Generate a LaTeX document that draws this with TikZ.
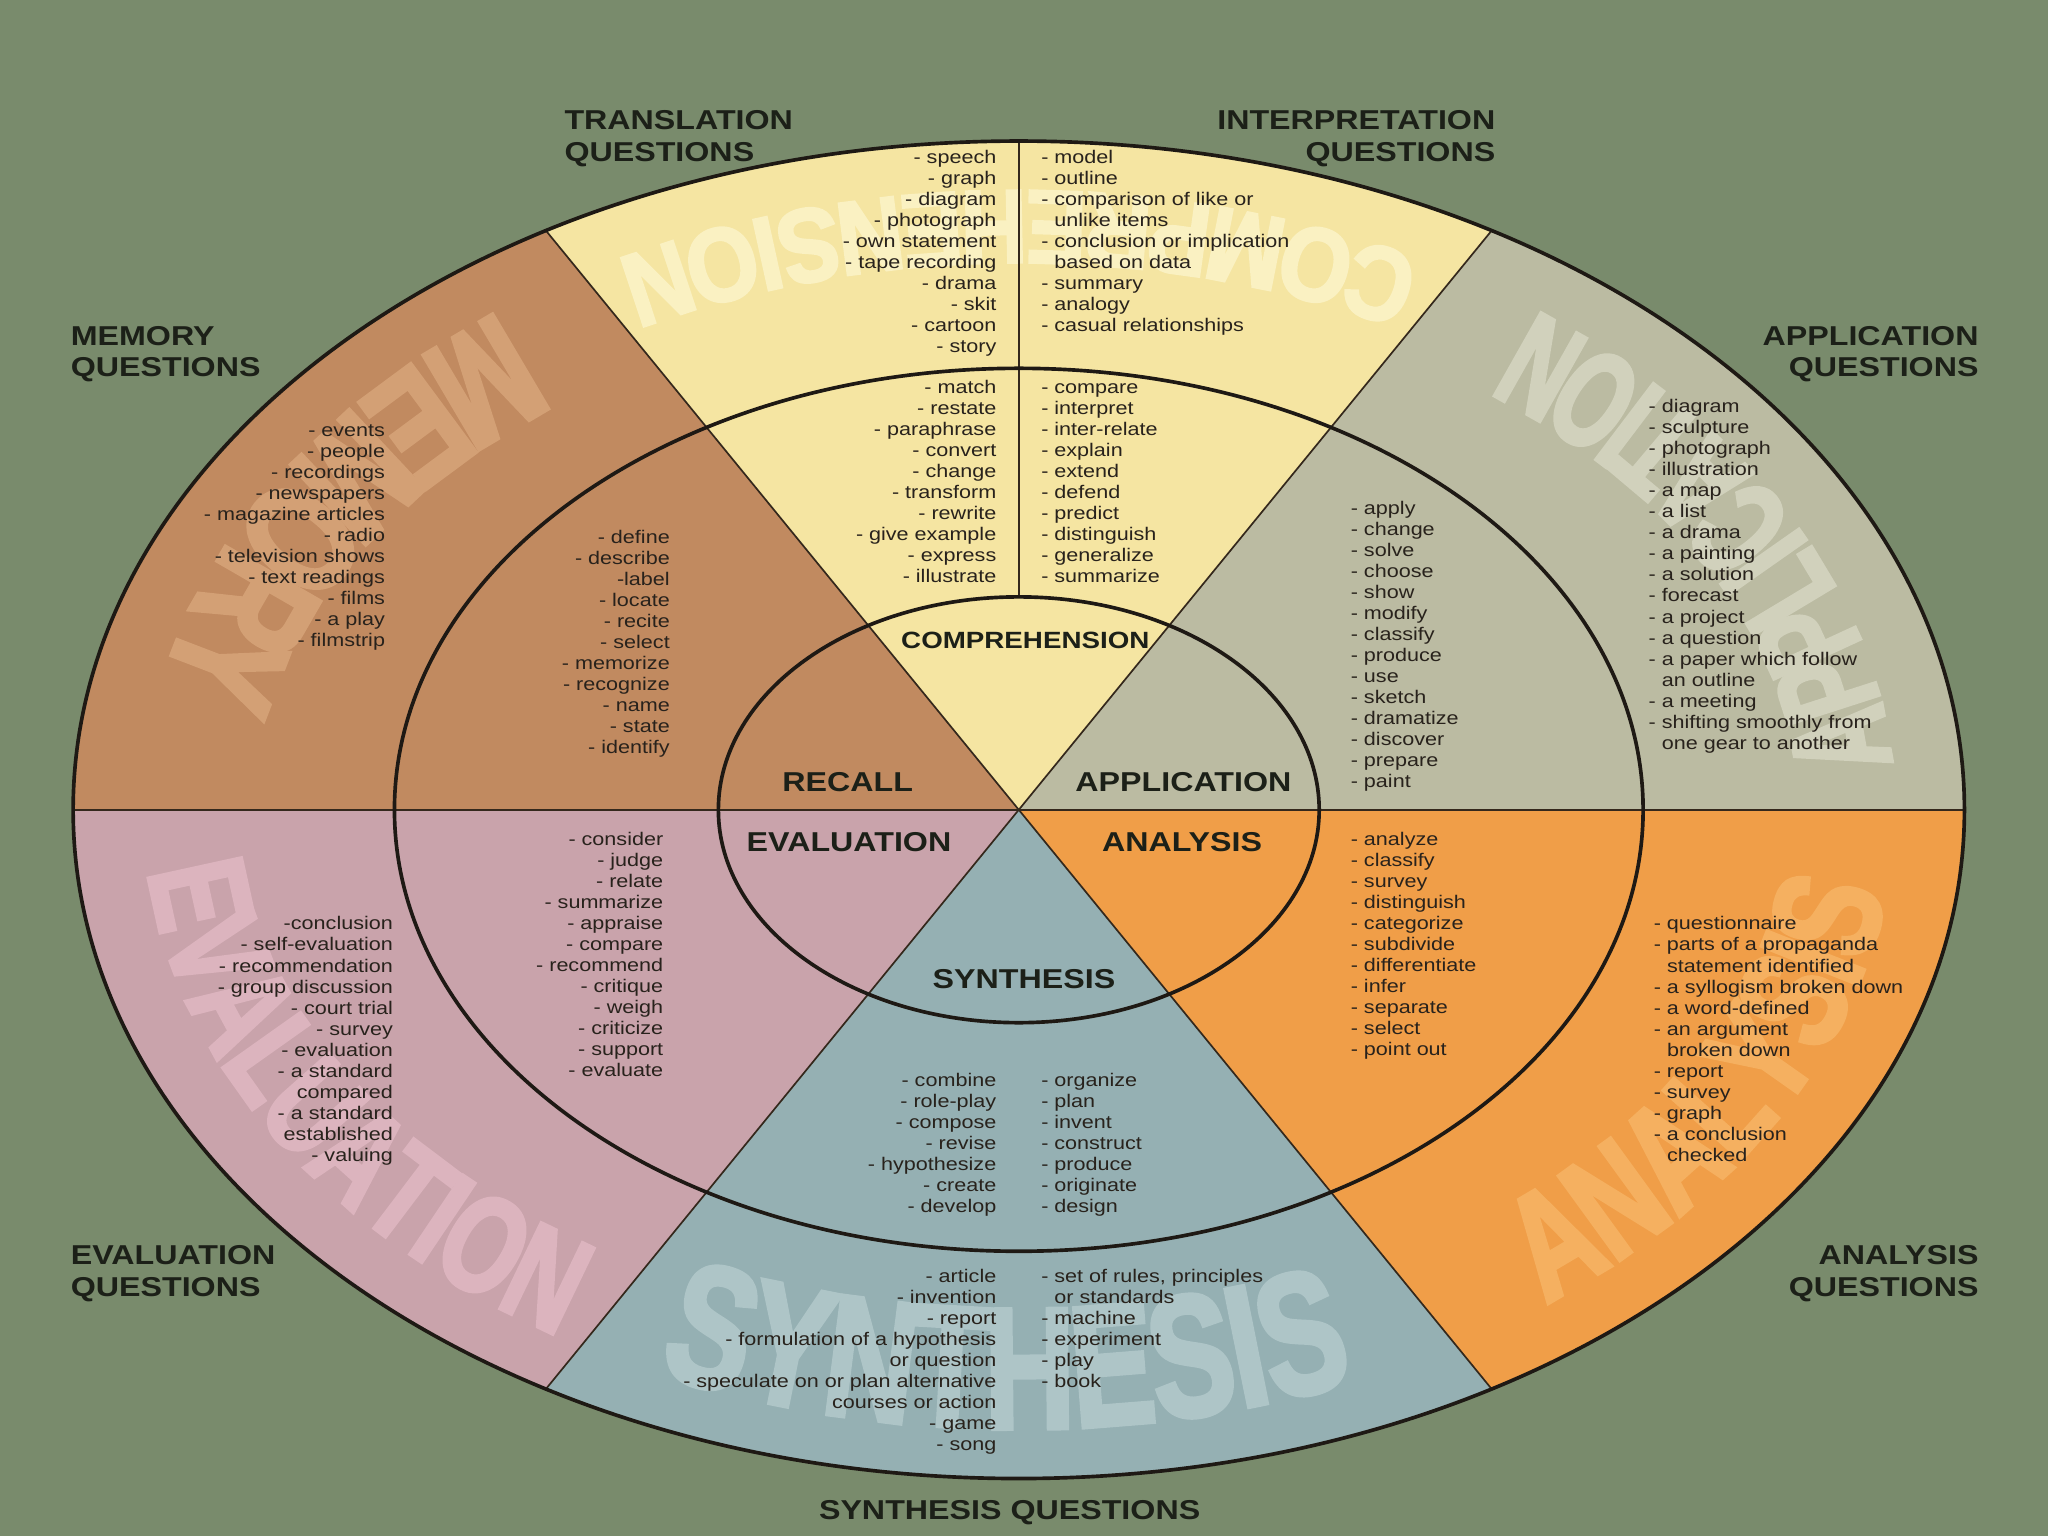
\documentclass[tikz,border=0pt]{standalone}
\usepackage{fontspec}
\usetikzlibrary{decorations.text}
\newfontfamily\lf{Liberation Sans}[FakeStretch=1.18]
\newfontfamily\wf{Liberation Sans Bold}[FakeStretch=0.72,FakeBold=2.5]
\newfontfamily\wfc{Liberation Sans Bold}[FakeStretch=0.64,FakeBold=2.5]
\newfontfamily\wfn{Liberation Sans Bold}[FakeStretch=0.88,FakeBold=2.5]
\newcommand\wmfont[1]{\wf\fontsize{#1}{#1}\selectfont}
\newcommand\wmfontc[1]{\wfc\fontsize{#1}{#1}\selectfont}
\newcommand\wmfontn[1]{\wfn\fontsize{#1}{#1}\selectfont}
\definecolor{bg}{RGB}{121,139,108}
\definecolor{cComp}{RGB}{245,229,162}
\definecolor{cMem}{RGB}{193,138,96}
\definecolor{cApp}{RGB}{187,187,162}
\definecolor{cEval}{RGB}{201,163,171}
\definecolor{cAna}{RGB}{240,158,72}
\definecolor{cSyn}{RGB}{149,176,179}
\definecolor{wmComp}{RGB}{250,241,194}
\definecolor{wmMem}{RGB}{211,160,117}
\definecolor{wmApp}{RGB}{209,209,188}
\definecolor{wmEval}{RGB}{220,180,190}
\definecolor{wmAna}{RGB}{245,176,96}
\definecolor{wmSyn}{RGB}{174,197,199}
\definecolor{txt}{RGB}{40,34,28}
\definecolor{hdc}{RGB}{28,32,24}
\definecolor{ringc}{RGB}{30,25,20}
\definecolor{spokec}{RGB}{52,40,28}
\tikzset{
  li/.style={font=\lf\fontsize{14}{16}\selectfont, text=txt, inner sep=0pt},
  hd/.style={font=\lf\bfseries\fontsize{20.9}{24}\selectfont, text=hdc, inner sep=0pt},
  cl/.style={font=\lf\bfseries\fontsize{20.9}{24}\selectfont, text=hdc, inner sep=0pt},
  ring/.style={draw=ringc, line width=2.8pt},
  spoke/.style={draw=spokec, line width=1.3pt},
}
\newcommand\lstR[4]{\foreach \itm [count=\i] in {#4} {\node[li,anchor=base east] (#1\i) at (#2,{-#3-4-(\i-1)*16.1}) {\itm};}}
\newcommand\lstL[4]{\foreach \itm [count=\i] in {#4} {\node[li,anchor=base west] (#1\i) at (#2,{-#3-4-(\i-1)*16.1}) {\itm};}}
\newcommand\sector[3]{\fill[#1] (C) -- ++(#2:724 and 512) arc[start angle=#2,end angle=#3,x radius=724,y radius=512] -- cycle;}
\begin{document}
\begin{tikzpicture}[x=1pt,y=1pt]
\useasboundingbox (0,0) rectangle (1568,1176);
\fill[bg] (0,0) rectangle (1568,1176);
\begin{scope}[shift={(0,1176)}]
\coordinate (C) at (780,-620);
% sectors
\sector{cApp}{0}{60}
\sector{cComp}{60}{120}
\sector{cMem}{120}{180}
\sector{cEval}{180}{240}
\sector{cSyn}{240}{300}
\sector{cAna}{300}{360}
% watermarks
\path[decorate,decoration={text along path,text color=wmComp,text align=center,text={|\wmfontn{80}|COMPREHENSION}}]
  (C) ++(25:670 and 473.8) arc[start angle=25,end angle=155,x radius=670,y radius=473.8];
\path[decorate,decoration={text along path,text color=wmMem,text align=center,text={|\wmfont{122}|MEMORY}}]
  (C) ++(104:670 and 473.8) arc[start angle=104,end angle=198,x radius=670,y radius=473.8];
\path[decorate,decoration={text along path,text color=wmApp,text align=center,text={|\wmfontc{106}|APPLICATION}}]
  (C) ++(-21:670 and 473.8) arc[start angle=-21,end angle=73,x radius=670,y radius=473.8];
\path[decorate,decoration={text along path,text color=wmEval,text align=center,text={|\wmfont{106}|EVALUATION}}]
  (C) ++(162:670 and 473.8) arc[start angle=162,end angle=256,x radius=670,y radius=473.8];
\path[decorate,decoration={text along path,text color=wmSyn,text align=center,text={|\wmfont{133}|SYNTHESIS}}]
  (C) ++(220:670 and 473.8) arc[start angle=220,end angle=318,x radius=670,y radius=473.8];
\path[decorate,decoration={text along path,text color=wmAna,text align=center,text={|\wmfont{116}|ANALYSIS}}]
  (C) ++(286:670 and 473.8) arc[start angle=286,end angle=380,x radius=670,y radius=473.8];
% spokes
\draw[spoke] (C) ++(-724,0) -- ++(1448,0);
\draw[spoke] (C) -- ++(60:724 and 512);
\draw[spoke] (C) -- ++(120:724 and 512);
\draw[spoke] (C) -- ++(240:724 and 512);
\draw[spoke] (C) -- ++(300:724 and 512);
\draw[spoke] (C) ++(0,163) -- ++(0,349);
% rings
\draw[ring] (C) ellipse[x radius=724,y radius=512];
\draw[ring] (C) ellipse[x radius=478,y radius=338];
\draw[ring] (C) ellipse[x radius=230,y radius=163];
% headings
\node[hd,anchor=base west] (trq1) at (432,-99.4) {TRANSLATION};
\node[hd,anchor=base west] (trq2) at (432,-123.4) {QUESTIONS};
\node[hd,anchor=base east] (inq1) at (1145,-99.4) {INTERPRETATION};
\node[hd,anchor=base east] (inq2) at (1145,-123.4) {QUESTIONS};
\node[hd,anchor=base west] (meq1) at (54,-264.4) {MEMORY};
\node[hd,anchor=base west] (meq2) at (54,-288.4) {QUESTIONS};
\node[hd,anchor=base east] (apq1) at (1515,-264.4) {APPLICATION};
\node[hd,anchor=base east] (apq2) at (1515,-288.4) {QUESTIONS};
\node[hd,anchor=base west] (evq1) at (54,-968.4) {EVALUATION};
\node[hd,anchor=base west] (evq2) at (54,-992.4) {QUESTIONS};
\node[hd,anchor=base east] (anq1) at (1515,-968.4) {ANALYSIS};
\node[hd,anchor=base east] (anq2) at (1515,-992.4) {QUESTIONS};
\node[hd,anchor=base] (syq) at (773,-1163.4) {SYNTHESIS QUESTIONS};
% centre labels
\node[cl,font=\lf\bfseries\fontsize{18}{22}\selectfont] (lComp) at (785,-490) {COMPREHENSION};
\node[cl] (lRec) at (649,-599) {RECALL};
\node[cl] (lApp) at (906,-599) {APPLICATION};
\node[cl] (lEva) at (650,-645) {EVALUATION};
\node[cl] (lAna) at (905,-645) {ANALYSIS};
\node[cl] (lSyn) at (784,-750) {SYNTHESIS};
% lists
\lstR{tr}{763}{121}{- speech,- graph,- diagram,- photograph,- own statement,- tape recording,- drama,- skit,- cartoon,- story}
\lstL{ip}{797}{121}{- model,- outline,- comparison of like or,\phantom{- }unlike items,- conclusion or implication,\phantom{- }based on data,- summary,- analogy,- casual relationships}
\lstR{cm}{763}{297}{- match,- restate,- paraphrase,- convert,- change,- transform,- rewrite,- give example,- express,- illustrate}
\lstL{cr}{797}{297}{- compare,- interpret,- inter-relate,- explain,- extend,- defend,- predict,- distinguish,- generalize,- summarize}
\lstR{mo}{295}{330}{- events,- people,- recordings,- newspapers,- magazine articles,- radio,- television shows,- text readings,- films,- a play,- filmstrip}
\lstR{rm}{513}{412}{- define,- describe,-label,- locate,- recite,- select,- memorize,- recognize,- name,- state,- identify}
\lstL{am}{1034}{390}{- apply,- change,- solve,- choose,- show,- modify,- classify,- produce,- use,- sketch,- dramatize,- discover,- prepare,- paint}
\lstL{ao}{1262}{312}{- diagram,- sculpture,- photograph,- illustration,- a map,- a list,- a drama,- a painting,- a solution,- forecast,- a project,- a question,- a paper which follow,\phantom{- }an outline,- a meeting,- shifting smoothly from,\phantom{- }one gear to another}
\lstR{em}{508}{643}{- consider,- judge,- relate,- summarize,- appraise,- compare,- recommend,- critique,- weigh,- criticize,- support,- evaluate}
\lstR{eo}{301}{708}{-conclusion,- self-evaluation,- recommendation,- group discussion,- court trial,- survey,- evaluation,- a standard,compared,- a standard,established,- valuing}
\lstL{nm}{1034}{643}{- analyze,- classify,- survey,- distinguish,- categorize,- subdivide,- differentiate,- infer,- separate,- select,- point out}
\lstL{no}{1266}{708}{- questionnaire,- parts of a propaganda,\phantom{- }statement identified,- a syllogism broken down,- a word-defined,- an argument,\phantom{- }broken down,- report,- survey,- graph,- a conclusion,\phantom{- }checked}
\lstR{sl}{763}{828}{- combine,- role-play,- compose,- revise,- hypothesize,- create,- develop}
\lstL{sr}{797}{828}{- organize,- plan,- invent,- construct,- produce,- originate,- design}
\lstR{ol}{763}{978}{- article,- invention,- report,- formulation of a hypothesis,or question,- speculate on or plan alternative,courses or action,- game,- song}
\lstL{or}{797}{978}{{- set of rules, principles},\phantom{- }or standards,- machine,- experiment,- play,- book}
\end{scope}
\end{tikzpicture}
\end{document}
